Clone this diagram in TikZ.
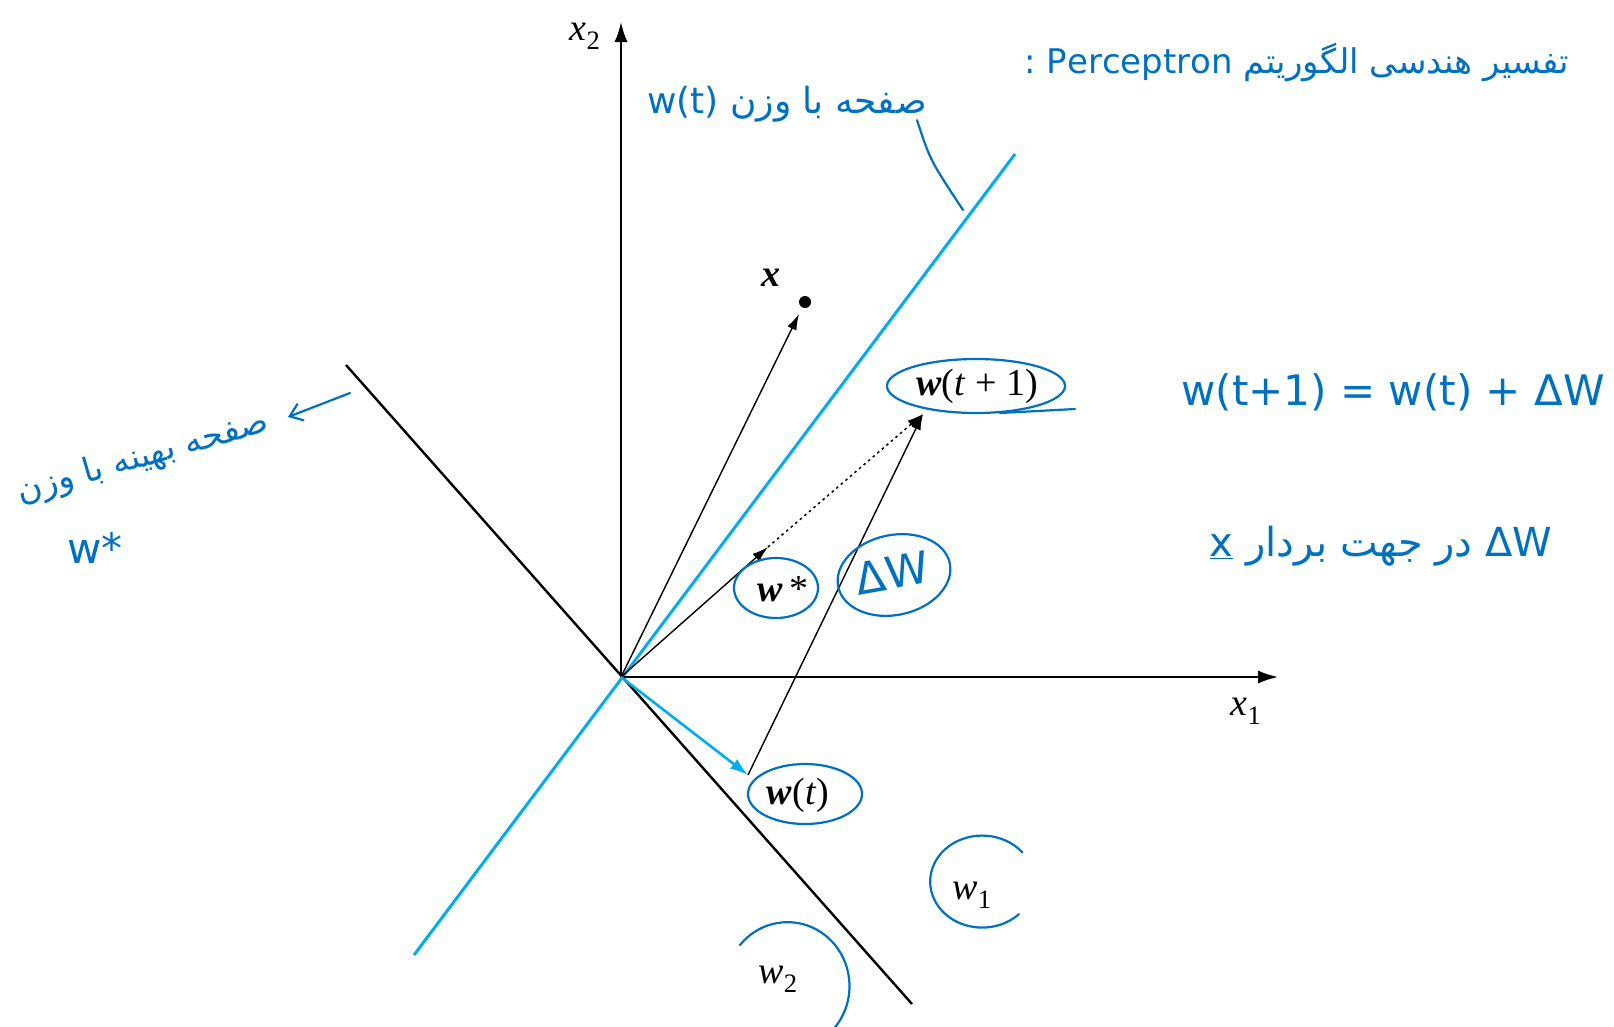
\documentclass[tikz,border=0pt]{standalone}
\usepackage{fontspec}
\setmainfont{Liberation Serif}
\newfontfamily\fa[Script=Arabic]{DejaVu Sans}
\TeXXeTstate=1
\usetikzlibrary{arrows.meta}
\definecolor{ink}{RGB}{0,112,192}
\definecolor{plane}{RGB}{0,174,239}
\tikzset{
  axisline/.style={line width=1.8pt, -{Latex[length=20pt,width=13pt]}},
  vec/.style={line width=1.4pt, -{Latex[length=16pt,width=10pt]}},
  hand/.style={ink, line width=2.2pt, line cap=round},
  lbl/.style={font=\fontsize{38}{42}\selectfont, inner sep=0pt},
  note/.style={ink, font=\fa\fontsize{34}{38}\selectfont, inner sep=0pt},
}
\newcommand{\bw}{\textbf{\textit{w}}}
\begin{document}
\begin{tikzpicture}[x=1pt,y=-1pt]
\useasboundingbox (0,0) rectangle (1614,1026);
% coordinates
\coordinate (O) at (621,677);
\coordinate (X2) at (621,22);
\coordinate (X1) at (1278,677);
\coordinate (B1) at (414,955);
\coordinate (B2) at (1015,154);
\coordinate (K1) at (346,365);
\coordinate (K2) at (912,1004);
\coordinate (xtip) at (799,314);
\coordinate (wstar) at (768,547);
\coordinate (wt1) at (923,414);
\coordinate (wt) at (748,775);
% planes
\draw[line width=2.4pt] (K1) -- (K2);
\draw[plane, line width=3pt] (B1) -- (B2);
% axes
\draw[axisline] (O) -- (X2);
\draw[axisline] (O) -- (X1);
\node[lbl] (lx2) at (585,36) {\textit{x}\textsubscript{2}};
\node[lbl] (lx1) at (1246,711) {\textit{x}\textsubscript{1}};
% vectors
\draw[vec] (O) -- (xtip);
\node[circle, fill, inner sep=0pt, minimum size=12pt] (xdot) at (805,302) {};
\node[lbl] (lx) at (771,278) {\textbf{\textit{x}}};
\draw[vec] (O) -- (wstar);
\draw[line width=1.5pt, dash pattern=on 2.5pt off 3.5pt, -{Latex[length=16pt,width=10pt]}] (wstar) -- (wt1);
\draw[plane, line width=2.6pt, -{Latex[length=18pt,width=12pt]}] (O) -- (wt);
\draw[vec] (wt) -- (wt1);
\node[lbl] (lwstar) at (783,589) {\bw\,*};
\node[lbl] (lwt1) at (977,386) {\bw(\textit{t} + 1)};
\node[lbl] (lwt) at (798,795) {\bw(\textit{t})};
\node[lbl] (lw1) at (972,895) {\textit{w}\textsubscript{1}};
\node[lbl] (lw2) at (778,979) {\textit{w}\textsubscript{2}};
% hand annotations: ellipses
\draw[hand] (776,588) ellipse [x radius=42, y radius=30];
\draw[hand, rotate around={12:(894,575)}] (894,575) ellipse [x radius=57, y radius=40];
\node[note, font=\fa\fontsize{44}{48}\selectfont, rotate=10] (dw) at (892,573) {ΔW};
\draw[hand] (976,386) ellipse [x radius=89, y radius=27];
\coordinate (tailA) at (1000,413);
\coordinate (tailB) at (1075,409);
\draw[hand] (tailA) -- (tailB);
\draw[hand] (805,794) ellipse [x radius=57, y radius=30];
\draw[hand] (1022,852) arc[start angle=-40, end angle=-315, x radius=52, y radius=46];
\draw[hand] (740,945) arc[start angle=-140, end angle=40, x radius=62, y radius=64];
% hand texts
\node[note] (title) at (1297,62) {\beginR تفسیر هندسی الگوریتم \beginL Perceptron\endL{} :\endR};
\node[note, font=\fa\fontsize{36}{40}\selectfont] (planewt) at (787,104) {\beginR صفحه با وزن \beginL w(t)\endL\endR};
\coordinate (pa) at (917,120);
\coordinate (pb) at (963,210);
\draw[hand] (pa) .. controls (930,160) .. (pb);
\node[note, font=\fa\fontsize{34}{40}\selectfont, rotate=16] (planews) at (143,458) {\beginR صفحه بهینه با وزن\endR};
\node[note, font=\fa\fontsize{42}{46}\selectfont] (ws) at (95,548) {w*};
\coordinate (la) at (350,393);
\coordinate (lb) at (288,417);
\draw[hand, -{Straight Barb[length=12pt,width=18pt]}] (la) -- (lb);
\node[note, font=\fa\fontsize{42}{46}\selectfont] (eq) at (1393,392) {w(t+1) = w(t) + ΔW};
\node[note, font=\fa\fontsize{40}{44}\selectfont] (dir) at (1381,546) {\beginR\beginL ΔW\endL{} در جهت بردار \underline{x}\endR};
\end{tikzpicture}
\end{document}
